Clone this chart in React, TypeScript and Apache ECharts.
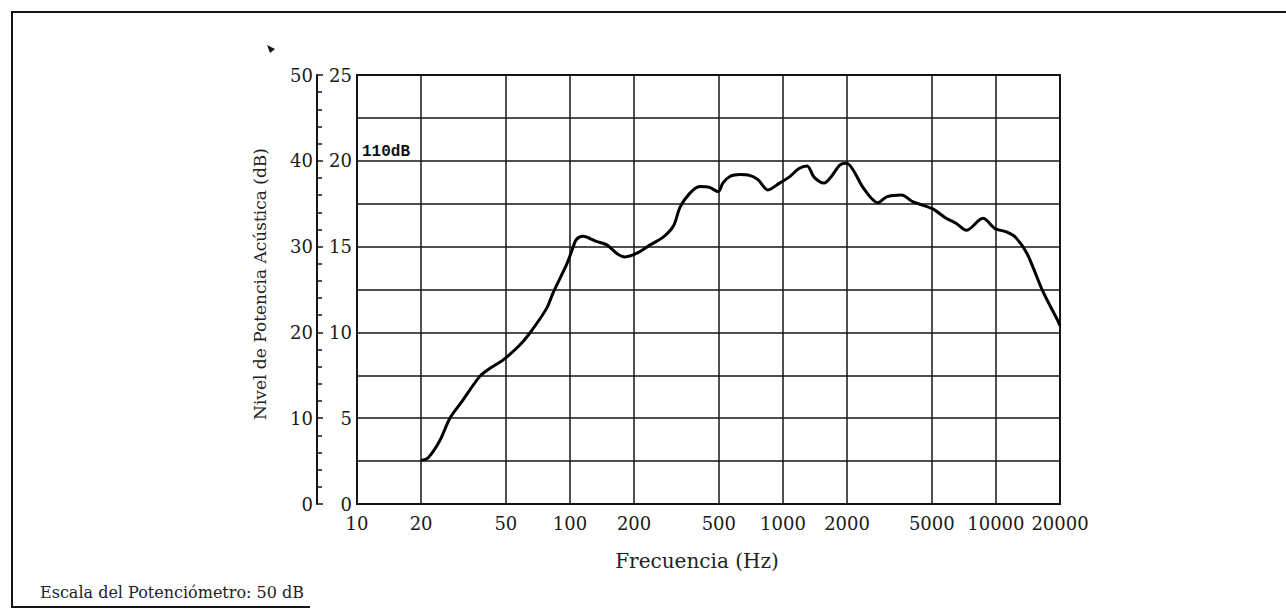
import React, { useEffect, useRef } from "react";
import * as echarts from "echarts";

const freqHz = [
  20, 21.6, 24.5, 27.3, 31, 37.8, 42, 48.6, 58, 64.7, 77.7, 83.6, 96, 102, 107, 115, 133, 149, 166, 181,
  205, 238, 274, 306, 329, 365, 407, 452, 497, 522, 566, 628, 697, 763, 851, 963, 1070, 1190, 1300, 1400,
  1560, 1680, 1850, 1990, 2140, 2390, 2790, 3070, 3600, 4090, 5050, 5840, 6520, 7270, 8700, 9920, 11270,
  12360, 14000, 16600, 19500, 20000,
];
const levelDb = [
  2.55, 2.7, 3.7, 5.0, 5.95, 7.45, 7.9, 8.4, 9.25, 9.95, 11.4, 12.35, 13.9, 14.75, 15.4, 15.6, 15.3, 15.1,
  14.6, 14.4, 14.6, 15.1, 15.55, 16.2, 17.3, 18.1, 18.5, 18.45, 18.2, 18.7, 19.1, 19.2, 19.15, 18.9, 18.3,
  18.7, 19.05, 19.55, 19.7, 19.05, 18.7, 19.05, 19.75, 19.85, 19.45, 18.4, 17.55, 17.9, 18.0, 17.6, 17.2,
  16.65, 16.35, 15.95, 16.65, 16.05, 15.85, 15.55, 14.6, 12.4, 10.7, 10.4,
];
const xTickLabels = [10, 20, 50, 100, 200, 500, 1000, 2000, 5000, 10000, 20000];
const xGridValues = [20, 50, 100, 200, 500, 1000, 2000, 5000, 10000];

const FONT = "DejaVu Serif";
const INK = "#151515";

export default function App() {
  const ref = useRef<HTMLDivElement>(null);
  useEffect(() => {
    if (!ref.current) return;
    const chart = echarts.init(ref.current, undefined, { renderer: "svg" });
    const data = freqHz.map((f, i) => [f, levelDb[i]]);
    chart.setOption({
      animation: false,
      backgroundColor: "#ffffff",
      grid: {
        left: 357,
        right: 226,
        top: 75,
        bottom: 110,
        show: true,
        borderColor: INK,
        borderWidth: 2,
      },
      xAxis: {
        type: "log",
        logBase: 10,
        min: 10,
        max: 20000,
        axisLine: { show: true, lineStyle: { color: INK, width: 2 } },
        axisTick: { show: false },
        minorTick: { show: false },
        splitLine: { show: false },
        minorSplitLine: { show: false },
        axisLabel: {
          customValues: xTickLabels,
          fontFamily: FONT,
          fontSize: 18,
          color: "#1a1a1a",
          margin: 10,
          formatter: (v: number) => String(Math.round(v)),
        },
      },
      yAxis: [
        {
          type: "value",
          min: 0,
          max: 25,
          interval: 2.5,
          position: "left",
          axisLine: { show: true, lineStyle: { color: INK, width: 2 } },
          axisTick: { show: false },
          splitLine: { show: true, lineStyle: { color: INK, width: 1.5 } },
          axisLabel: {
            fontFamily: FONT,
            fontSize: 18,
            color: "#1a1a1a",
            margin: 5,
            formatter: (v: number) => (Math.abs(v % 5) < 1e-6 ? String(v) : ""),
          },
        },
        {
          type: "value",
          min: 0,
          max: 50,
          interval: 10,
          position: "left",
          offset: 40,
          axisLine: { show: true, onZero: false, lineStyle: { color: INK, width: 2 } },
          axisTick: { show: true, inside: true, length: 6, lineStyle: { color: INK, width: 1.5 } },
          minorTick: { show: true, splitNumber: 5, length: 5, lineStyle: { color: INK, width: 1.5 } },
          splitLine: { show: false },
          axisLabel: {
            fontFamily: FONT,
            fontSize: 18,
            color: "#1a1a1a",
            margin: 4,
          },
        },
      ],
      series: [
        {
          type: "line",
          yAxisIndex: 0,
          data,
          showSymbol: false,
          smooth: 0.3,
          lineStyle: { color: "#000", width: 3 },
          itemStyle: { color: "#000" },
          silent: true,
          markLine: {
            silent: true,
            symbol: "none",
            label: { show: false },
            lineStyle: { color: INK, width: 1.5, type: "solid" },
            data: xGridValues.map((v) => ({ xAxis: v })),
          },
          z: 5,
        },
      ],
      graphic: [
        {
          type: "line",
          shape: { x1: 12, y1: 12, x2: 1286, y2: 12 },
          style: { stroke: INK, lineWidth: 2 },
        },
        {
          type: "line",
          shape: { x1: 12, y1: 11, x2: 12, y2: 607 },
          style: { stroke: INK, lineWidth: 2 },
        },
        {
          type: "line",
          shape: { x1: 11, y1: 607, x2: 310, y2: 607 },
          style: { stroke: INK, lineWidth: 2 },
        },
        {
          type: "polygon",
          shape: { points: [[267, 45], [275, 49], [270, 53]] },
          style: { fill: INK },
        },
        {
          type: "text",
          x: 362,
          y: 152,
          style: {
            text: "110dB",
            fontFamily: "Liberation Mono",
            fontWeight: "bold",
            fontSize: 16,
            fill: "#111",
            align: "left",
            verticalAlign: "middle",
          },
        },
        {
          type: "text",
          x: 260,
          y: 284,
          rotation: Math.PI / 2,
          style: {
            text: "Nivel de Potencia Acústica (dB)",
            fontFamily: FONT,
            fontSize: 17,
            fill: "#222",
            align: "center",
            verticalAlign: "middle",
          },
        },
        {
          type: "text",
          x: 697,
          y: 561,
          style: {
            text: "Frecuencia (Hz)",
            fontFamily: FONT,
            fontSize: 20,
            fill: "#222",
            align: "center",
            verticalAlign: "middle",
          },
        },
        {
          type: "text",
          x: 40,
          y: 592,
          style: {
            text: "Escala del Potenciómetro: 50 dB",
            fontFamily: FONT,
            fontSize: 16,
            fill: "#222",
            align: "left",
            verticalAlign: "middle",
          },
        },
      ],
    });
    return () => chart.dispose();
  }, []);
  return (
    <div
      ref={ref}
      style={{ position: "absolute", left: 0, top: 0, width: 1286, height: 614, background: "#fff" }}
    />
  );
}
